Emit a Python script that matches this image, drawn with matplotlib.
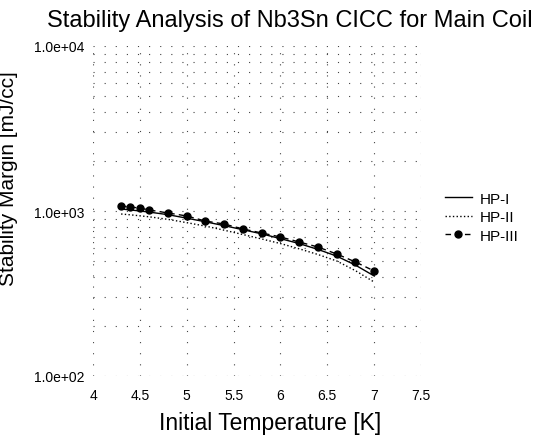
import matplotlib.pyplot as plt
from matplotlib.ticker import LogLocator, MultipleLocator, FixedLocator

# initial temperature [K]
temps = [4.3, 4.4, 4.5, 4.6, 4.8, 5.0, 5.2, 5.4, 5.6, 5.8, 6.0, 6.2, 6.4, 6.6, 6.8, 7.0]
# stability margin [mJ/cc]
hp1 = [1028, 1015, 1000, 985, 950, 905, 860, 815, 770, 727, 680, 635, 585, 533, 470, 404]
hp2 = [959, 948, 935, 922, 890, 850, 810, 765, 720, 677, 635, 590, 545, 498, 435, 371]
hp3 = [1072, 1057, 1042, 1014, 973, 933, 869, 834, 778, 736, 696, 649, 605, 549, 491, 433]

x_ticks = [4, 4.5, 5, 5.5, 6, 6.5, 7, 7.5]
x_tick_labels = ["4", "4.5", "5", "5.5", "6", "6.5", "7", "7.5"]
y_ticks = [1e2, 1e3, 1e4]
y_tick_labels = ["1.0e+02", "1.0e+03", "1.0e+04"]

plt.rcParams['font.family'] = ['Liberation Sans', 'DejaVu Sans']

fig = plt.figure(figsize=(5.53, 4.39), dpi=100)
ax = fig.add_axes([93 / 553, 1 - 377 / 439, (421 - 93) / 553, (377 - 47) / 439])

ax.plot(temps, hp1, color='black', linestyle='-', linewidth=1.0, label='HP-I')
ax.plot(temps, hp2, color='black', linestyle=':', linewidth=1.0, label='HP-II')
ax.plot(temps, hp3, color='black', linestyle=(0, (4, 3)), linewidth=1.0,
        marker='o', markersize=5, label='HP-III')

ax.set_yscale('log')
ax.set_xlim(4, 7.5)
ax.set_ylim(1e2, 1e4)
ax.xaxis.set_major_locator(FixedLocator(x_ticks))
ax.set_xticklabels(x_tick_labels)
ax.yaxis.set_major_locator(FixedLocator(y_ticks))
ax.set_yticklabels(y_tick_labels)
ax.yaxis.set_minor_locator(LogLocator(base=10, subs=range(2, 10)))
ax.yaxis.set_minor_formatter(plt.NullFormatter())
ax.xaxis.set_minor_locator(MultipleLocator(0.5))

grid_style = dict(color='#444444', linestyle=(0, (1, 9)), linewidth=0.8)
ax.grid(True, which='major', axis='both', **grid_style)
ax.grid(True, which='minor', axis='y', **grid_style)

for s in ax.spines.values():
    s.set_visible(False)
ax.tick_params(which='both', length=0, labelsize=10, pad=6)
ax.tick_params(axis='x', pad=9)

ax.set_xlabel("Initial Temperature [K]", fontsize=16.5)
ax.xaxis.set_label_coords((270 - 93) / 328, -0.105)
ax.set_ylabel("Stability Margin [mJ/cc]", fontsize=15)
ax.yaxis.set_label_coords(-0.23, 0.6)
fig.text(290 / 553, 1 - 21 / 439, "Stability Analysis of Nb3Sn CICC for Main Coil",
         fontsize=17, ha='center', va='center')

fig.legend(loc='upper left', bbox_to_anchor=(437 / 553, 1 - 185 / 439),
           frameon=False, fontsize=11, borderpad=0, handlelength=1.8,
           labelspacing=0.3, handletextpad=0.5)

fig.savefig('out.png', dpi=100)
